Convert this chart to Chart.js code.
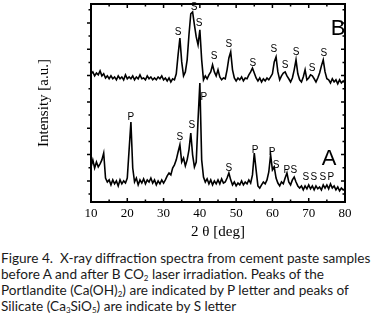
<!DOCTYPE html>
<html><head><meta charset="utf-8">
<script src="https://cdn.jsdelivr.net/npm/chart.js@4.4.1/dist/chart.umd.min.js"></script>
<style>
html,body{margin:0;padding:0;background:#fff;width:373px;height:323px;overflow:hidden}
#wrap{position:absolute;left:0;top:0;width:373px;height:245px}
#cap{position:absolute;left:1px;top:250px;font-family:Lato,"Open Sans",sans-serif;font-size:13.6px;line-height:16px;color:#1a1a1a;white-space:nowrap}
#cap sub{font-size:8px;line-height:0;vertical-align:-2px}
</style></head><body>
<div id="wrap"><canvas id="c" width="373" height="245"></canvas></div>
<div id="cap">Figure 4.&nbsp; X-ray diffraction spectra from cement paste samples<br>before A and after B CO<sub>2</sub> laser irradiation. Peaks of the<br>Portlandite (Ca(OH)<sub>2</sub>) are indicated by P letter and peaks of<br>Silicate (Ca<sub>3</sub>SiO<sub>5</sub>) are indicate by S letter</div>
<script>
// 2θ angles (deg)
const angles = [
 10,10.5,11,11.5,12,12.5,13,13.5,14,14.5,
 15,15.5,16,16.5,17,17.5,18,18.5,19,19.5,
 20,20.5,21,21.5,22,22.5,23,23.5,24,24.5,
 25,25.5,26,26.5,27,27.5,28,28.5,29,29.5,
 30,30.5,31,31.5,32,32.5,33,33.5,34,34.5,
 35,35.5,36,36.5,37,37.5,38,38.5,39,39.5,
 40,40.5,41,41.5,42,42.5,43,43.5,44,44.5,
 45,45.5,46,46.5,47,47.5,48,48.5,49,49.5,
 50,50.5,51,51.5,52,52.5,53,53.5,54,54.5,
 55,55.5,56,56.5,57,57.5,58,58.5,59,59.5,
 60,60.5,61,61.5,62,62.5,63,63.5,64,64.5,
 65,65.5,66,66.5,67,67.5,68,68.5,69,69.5,
 70,70.5,71,71.5,72,72.5,73,73.5,74,74.5,
 75,75.5,76,76.5,77,77.5,78,78.5,79,79.5,
 80];
// Spectrum B (after laser irradiation), a.u.
const intensityB = [
 407,414,399,410,403,418,399,407,391,399,
 388,399,388,395,384,399,388,395,384,403,
 388,395,388,399,384,395,388,403,388,391,
 384,399,388,395,384,391,384,395,388,399,
 384,391,380,391,376,388,384,407,479,543,
 452,399,414,460,555,635,642,593,547,517,
 574,460,384,399,388,403,414,441,414,399,
 422,395,384,391,388,422,467,490,422,391,
 380,391,384,395,380,391,388,403,414,429,
 410,391,380,391,376,388,380,391,384,395,
 407,452,471,414,384,399,410,414,399,388,
 376,391,422,460,407,384,376,395,422,384,
 391,403,399,388,376,391,410,437,460,414,
 388,384,372,388,376,384,369,384,372,380,
 372];
// Spectrum A (before irradiation), a.u.
const intensityA = [
 53,80,49,72,53,65,80,106,11,-4,
 4,-15,4,-11,0,-19,4,-11,0,-8,
 11,118,224,49,-4,11,-15,4,-8,8,
 -11,4,-4,11,-8,4,-15,0,-11,4,
 -8,4,19,30,23,49,61,80,110,137,
 72,87,57,80,118,182,99,53,72,232,
 372,80,15,-4,8,-11,4,-15,0,-11,
 4,-11,8,-8,-4,11,30,4,-15,-4,
 -19,-8,-15,0,-15,-4,-11,4,-8,23,
 106,42,-19,-27,-15,-4,-11,4,34,99,
 42,53,11,-8,-19,-4,-11,11,30,-4,
 -15,4,15,-4,-19,-27,-19,-34,-19,-30,
 -15,-30,-19,-34,-19,-30,-23,-34,-15,-27,
 -15,-30,-11,-27,-19,-34,-23,-38,-27,-34,
 -30];
// axis ticks
const xTickValues = [10,20,30,40,50,60,70,80];
const yTickValues = [0,100,200,300,400,500,600];
// peak markers
const peakTextB = ["S","S","S","S","S","S","S","S","S","S","S"];
const peakAngleB = [34.0,38.4,39.8,43.9,48.0,54.6,60.4,63.5,66.5,70.9,74.2];
const peakIntB = [566,661,600,475,521,448,502,441,490,429,486];
const peakTextA = ["P","S","S","P","S","P","P","S","P","S","S","S","S","P"];
const peakAngleA = [21.0,34.5,37.8,41.1,48.0,55.2,59.9,61.0,64.0,65.9,69.2,71.4,73.9,76.1];
const peakIntA = [243,167,213,319,49,118,110,61,42,42,15,15,15,15];
// sample letters
const sampleText = ["B","A"];
const sampleAngle = [78.1,75.6];
const sampleInt = [578,84];

const decor = {
  id:'decor',
  afterDatasetsDraw(chart){
    const {ctx, chartArea:a, scales:{x,y}} = chart;
    ctx.save();
    ctx.strokeStyle='#000';
    ctx.lineWidth=2;
    ctx.strokeRect(a.left, a.top, a.right-a.left, a.bottom-a.top);
    ctx.lineWidth=1.5;
    ctx.beginPath();
    const xt=[];
    xTickValues.forEach(v=>{xt.push([v,4]); if(v+5<80) xt.push([v+5,2.5]);});
    xt.forEach(([v,l])=>{
      const p=x.getPixelForValue(v);
      ctx.moveTo(p,a.bottom); ctx.lineTo(p,a.bottom-l);
      ctx.moveTo(p,a.top); ctx.lineTo(p,a.top+l);
    });
    const yt=[];
    yTickValues.forEach(v=>{yt.push([v,4]); yt.push([v+50,2.5]);});
    yt.push([-50,2.5]);
    yt.forEach(([v,l])=>{
      const p=y.getPixelForValue(v);
      if(p<a.top||p>a.bottom) return;
      ctx.moveTo(a.left,p); ctx.lineTo(a.left-l,p);
      ctx.moveTo(a.right,p); ctx.lineTo(a.right-l,p);
    });
    ctx.stroke();
    ctx.fillStyle='#000';
    ctx.textAlign='center'; ctx.textBaseline='middle';
    ctx.font='10px "Liberation Sans"';
    peakTextB.forEach((t,i)=>ctx.fillText(t, x.getPixelForValue(peakAngleB[i]), y.getPixelForValue(peakIntB[i])));
    peakTextA.forEach((t,i)=>ctx.fillText(t, x.getPixelForValue(peakAngleA[i]), y.getPixelForValue(peakIntA[i])));
    ctx.font='22px "Liberation Sans"';
    sampleText.forEach((t,i)=>ctx.fillText(t, x.getPixelForValue(sampleAngle[i]), y.getPixelForValue(sampleInt[i])));
    ctx.restore();
  }
};

new Chart(document.getElementById('c'), {
  type:'line',
  data:{datasets:[
    {label:'B', data:angles.map((v,i)=>({x:v,y:intensityB[i]})), borderColor:'#000', borderWidth:1.6, pointRadius:0, tension:0, fill:false},
    {label:'A', data:angles.map((v,i)=>({x:v,y:intensityA[i]})), borderColor:'#000', borderWidth:1.6, pointRadius:0, tension:0, fill:false}
  ]},
  options:{
    responsive:false, animation:false, events:[],
    layout:{padding:{left:0,right:28,top:4,bottom:0}},
    plugins:{legend:{display:false}, tooltip:{enabled:false}},
    scales:{
      x:{type:'linear', min:10, max:80,
         afterBuildTicks:s=>{s.ticks=xTickValues.map(v=>({value:v}));},
         ticks:{font:{family:'Liberation Serif',size:13}, color:'#000', padding:4, maxRotation:0},
         grid:{display:false, drawTicks:false}, border:{display:false},
         title:{display:true, text:'2 θ [deg]', font:{family:'Liberation Serif',size:15}, color:'#000', padding:{top:0,bottom:4}},
         afterFit:s=>{s.height=43;}},
      y:{type:'linear', min:-80, max:672,
         afterBuildTicks:s=>{s.ticks=yTickValues.map(v=>({value:v}));},
         ticks:{display:false},
         grid:{display:false, drawTicks:false}, border:{display:false},
         title:{display:true, text:'Intensity [a.u.]', font:{family:'Liberation Serif',size:15}, color:'#000', padding:{top:35,bottom:0}},
         afterFit:s=>{s.width=91;}}
    }
  },
  plugins:[decor]
});
</script>
</body></html>
